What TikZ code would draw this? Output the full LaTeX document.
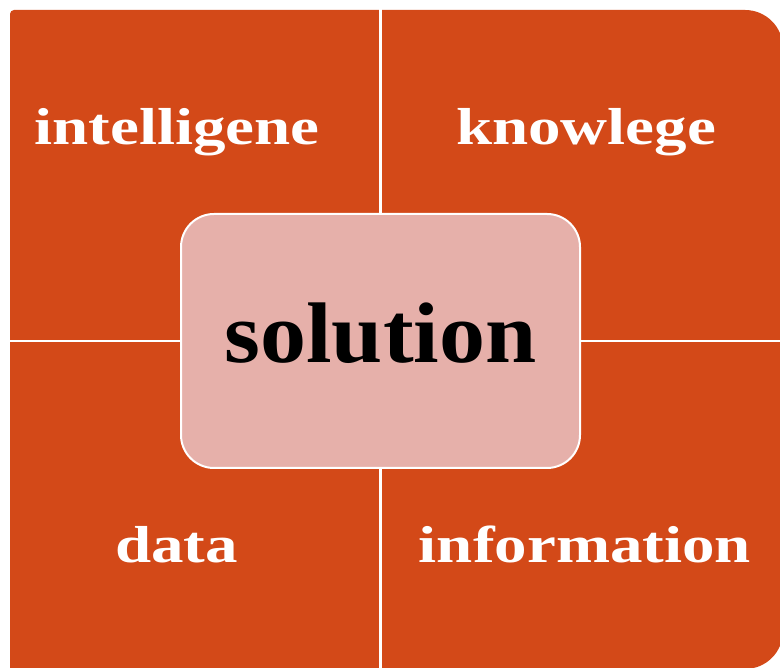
\documentclass[tikz,border=0pt]{standalone}
\usepackage{fontspec}
\newfontfamily\labfont[FakeStretch=1.25]{Liberation Serif}
\newfontfamily\solfont[FakeStretch=1.07]{Liberation Serif}
\definecolor{qfill}{RGB}{211,73,24}
\definecolor{boxfill}{RGB}{230,176,170}
\tikzset{
  quadlabel/.style={anchor=base, text=white, inner sep=0pt,
    font=\labfont\bfseries\fontsize{52}{60}\selectfont},
  centerbox/.style={draw=white, line width=2pt, fill=boxfill,
    rounded corners=33pt, minimum width=399pt, minimum height=254pt,
    inner sep=0pt, text height=44pt, text depth=0pt, text=black,
    font=\solfont\bfseries\fontsize{86}{96}\selectfont},
  divider/.style={draw=white, line width=2.5pt}
}
\begin{document}
\begin{tikzpicture}[x=1pt,y=1pt]
\useasboundingbox (0,0) rectangle (780,668);
\clip (0,0) rectangle (780,668);
% outer orange field
\fill[qfill] (10,-1) -- (10,654) arc[start angle=180,end angle=90,radius=4]
  -- (745,658) arc[start angle=90,end angle=0,radius=38]
  -- (783,37) arc[start angle=0,end angle=-90,radius=38]
  -- (745,-1) -- cycle;
% divider ends
\coordinate (vtop) at (380.5,660);
\coordinate (vbot) at (380.5,-2);
\coordinate (hleft) at (9,327);
\coordinate (hright) at (785,327);
\draw[divider] (vtop) -- (vbot);
\draw[divider] (hleft) -- (hright);
% labels
\node[quadlabel] (intel) at (177,523) {intelligene};
\node[quadlabel] (know) at (586,523) {knowlege};
\node[quadlabel] (data) at (176.5,105) {data};
\node[quadlabel] (info) at (585,105) {information};
% center
\node[centerbox] (sol) at (380.5,327) {solution};
\end{tikzpicture}
\end{document}
